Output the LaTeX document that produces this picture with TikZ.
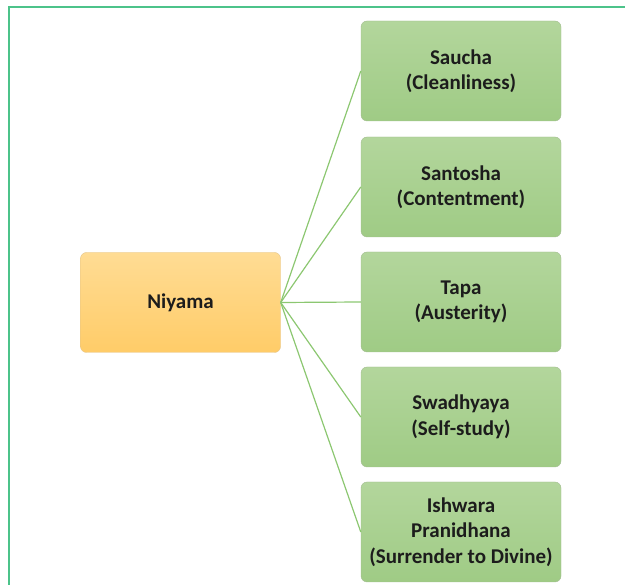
\documentclass[tikz,border=0pt]{standalone}
\usepackage{fontspec}
\setmainfont{Carlito}
\usepackage{xcolor}
\definecolor{framegreen}{HTML}{4CC38A}
\definecolor{linkgreen}{HTML}{8CC771}
\definecolor{leaftop}{HTML}{B3D69C}
\definecolor{leafbot}{HTML}{9FCB85}
\definecolor{leafline}{HTML}{A3BC92}
\definecolor{roottop}{HTML}{FFDC94}
\definecolor{rootbot}{HTML}{FFCC68}
\definecolor{rootline}{HTML}{E3C48A}
\definecolor{inkdark}{HTML}{1C1C1C}

\begin{document}
\begin{tikzpicture}[x=1pt,y=-1pt,
  box/.style={rounded corners=6pt, minimum width=200pt, minimum height=100pt,
    align=center, text=inkdark, font=\bfseries\fontsize{21}{25.5}\selectfont},
  leaf/.style={box, draw=leafline, top color=leaftop, bottom color=leafbot},
  root/.style={box, draw=rootline, top color=roottop, bottom color=rootbot},
  link/.style={linkgreen, line width=1.2pt}]
  \useasboundingbox (0,0) rectangle (625,585);

  % frame
  \draw[framegreen, line width=2pt] (9,590) -- (9,7.5) -- (630,7.5);

  \node[root] (niyama) at (180.5,302.5) {Niyama};

  \node[leaf] (saucha)   at (461,71)  {Saucha\\(Cleanliness)};
  \node[leaf] (santosha) at (461,187) {Santosha\\(Contentment)};
  \node[leaf] (tapa)     at (461,302) {Tapa\\(Austerity)};
  \node[leaf] (swadhyaya) at (461,417) {Swadhyaya\\(Self-study)};
  \node[leaf] (ishwara)  at (461,532) {Ishwara\\Pranidhana\\(Surrender to Divine)};

  \foreach \n in {saucha,santosha,tapa,swadhyaya,ishwara}
    \draw[link] (niyama.east) -- (\n.west);
\end{tikzpicture}
\end{document}
